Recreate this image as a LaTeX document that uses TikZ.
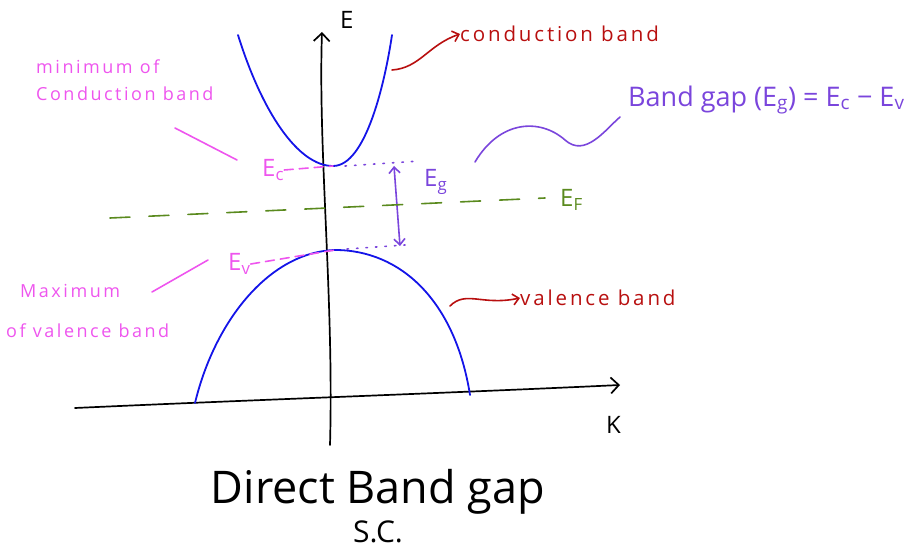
\documentclass[tikz,border=0pt]{standalone}
\usepackage{fontspec}
\setmainfont{Open Sans}
\newfontfamily\handfont[LetterSpace=14]{Open Sans}
\usetikzlibrary{arrows.meta, positioning}
\definecolor{bandblue}{HTML}{1414E8}
\definecolor{notepink}{HTML}{EE55EE}
\definecolor{notered}{HTML}{B80F0F}
\definecolor{gappurple}{HTML}{7A45DC}
\definecolor{fermigreen}{HTML}{5A8A1E}

\begin{document}
\begin{tikzpicture}[
  x=1pt, y=-1pt,
  >={Straight Barb[length=6pt, width=11pt, line width=1.6pt]},
  axis/.style={line width=1.7pt, line cap=round, -{Straight Barb[length=8pt, width=16pt, line width=1.7pt]}},
  band/.style={draw=bandblue, line width=1.8pt, line cap=round},
  pen/.style={line width=1.6pt, line cap=round},
  pinknote/.style={text=notepink, font=\handfont\fontsize{18}{27}\selectfont, align=left, inner sep=0pt},
  rednote/.style={text=notered, font=\handfont\fontsize{20.5}{24}\selectfont, inner sep=0pt},
  sym/.style={font=\fontsize{24}{28}\selectfont, inner sep=0pt}
]
\useasboundingbox (0,0) rectangle (924,556);

% axes
\coordinate (eBase) at (330,445);
\coordinate (eTip) at (322,32);
\coordinate (kBase) at (75,408);
\coordinate (kTip) at (620,385);
\draw[axis] (eBase) .. controls (334,300) and (318,150) .. (eTip);
\draw[axis] (kBase) .. controls (250,400) and (450,393) .. (kTip);
\node[sym, anchor=west] (eLabel) at (340,20) {E};
\node[sym, anchor=west] (kLabel) at (606,425) {K};

% bands
\coordinate (cbMin) at (333,166);
\coordinate (vbMax) at (335,250);
\draw[band] (238,35) .. controls (262,112) and (298,166) .. (cbMin)
  .. controls (366,166) and (385,82) .. (392,35);
\draw[band] (195,403) .. controls (215,320) and (270,252) .. (vbMax)
  .. controls (400,250) and (455,300) .. (470,395);

% band edges
\node[sym, text=notepink, anchor=west] (ecLabel) at (262,170) {E\textsubscript{c}};
\node[sym, text=notepink, anchor=west] (evLabel) at (228,264) {E\textsubscript{v}};
\draw[pen, notepink, dash pattern=on 9pt off 6pt] (ecLabel.east) -- (cbMin);
\draw[pen, notepink, dash pattern=on 9pt off 6pt] (evLabel.east) -- (vbMax);
\coordinate (ecEnd) at (420,161);
\coordinate (evEnd) at (405,245);
\draw[pen, gappurple, dash pattern=on 1.5pt off 8pt] (cbMin) ++(12,0) -- (ecEnd);
\draw[pen, gappurple, dash pattern=on 1.5pt off 8pt] (vbMax) ++(12,-1) -- (evEnd);
\coordinate (gapTop) at (394,166);
\coordinate (gapBot) at (400,246);
\draw[pen, gappurple, <->] (gapTop) -- (gapBot);
\node[sym, text=gappurple, anchor=west] (egLabel) at (424,182) {E\textsubscript{g}};

% Fermi level
\coordinate (efStart) at (110,218);
\coordinate (efEnd) at (545,198);
\draw[pen, fermigreen, dash pattern=on 20pt off 19pt] (efStart) -- (efEnd);
\node[sym, text=fermigreen, anchor=west] (efLabel) at (560,200) {E\textsubscript{F}};

% notes
\node[pinknote, anchor=north west] (minCB) at (36,60) {minimum of\\Conduction band};
\node[pinknote, anchor=north west] (maxVB) at (20,284) {Maximum};
\node[pinknote, anchor=north west] (ofVB) at (6,324) {of valence band};
\coordinate (minPtr) at (175,128);
\coordinate (maxPtr) at (152,292);
\draw[pen, notepink] (minPtr) -- (237,160);
\draw[pen, notepink] (maxPtr) -- (208,260);

\node[rednote, anchor=west] (cbNote) at (460,34) {conduction band};
\node[rednote, anchor=west] (vbNote) at (520,298) {valence band};
\draw[pen, notered, ->] (392,70) .. controls (420,68) and (428,45) .. (cbNote.west);
\draw[pen, notered, ->] (450,306) .. controls (466,290) and (482,306) .. (vbNote.west);

\node[text=gappurple, font=\fontsize{27}{32}\selectfont, anchor=west, inner sep=0pt] (gapNote) at (628,100)
  {Band gap (E\textsubscript{g}) = E\textsubscript{c} − E\textsubscript{v}};
\draw[pen, gappurple] (475,162) .. controls (500,120) and (540,118) .. (565,140)
  .. controls (585,158) and (605,130) .. (620,117);

% title
\node[font=\fontsize{45}{50}\selectfont, inner sep=0pt] (title) at (378,492) {Direct Band gap};
\node[font=\fontsize{30}{36}\selectfont, inner sep=0pt, below=6pt of title] (scLabel) {S.C.};
\end{tikzpicture}
\end{document}
